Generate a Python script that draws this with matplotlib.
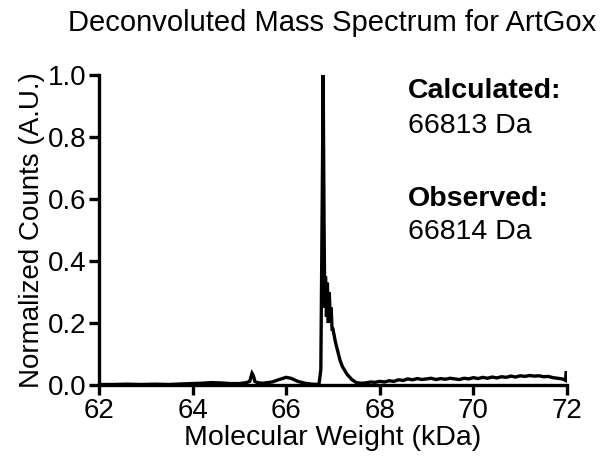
import numpy as np
import matplotlib
matplotlib.use("Agg")
import matplotlib.pyplot as plt

plt.rcParams['font.family'] = ['Liberation Sans', 'DejaVu Sans']

# Molecular weight (kDa) and normalized counts
mw = [62.0, 62.3, 62.6, 62.9, 63.2, 63.5, 63.8, 64.0, 64.2, 64.4, 64.6, 64.8,
      65.0, 65.15, 65.22, 65.27, 65.30, 65.33, 65.38, 65.5, 65.7, 65.85, 66.0,
      66.1, 66.25, 66.4, 66.55, 66.7, 66.74, 66.77, 66.79, 66.81, 66.825, 66.84,
      66.86, 66.88, 66.90, 66.92, 66.94, 66.96, 66.98, 67.0, 67.05, 67.1, 67.15,
      67.2, 67.3, 67.4, 67.5, 67.6, 67.7, 67.8, 67.9, 68.0, 68.1, 68.2, 68.3,
      68.4, 68.5, 68.6, 68.7, 68.8, 68.9, 69.0, 69.1, 69.2, 69.3, 69.4, 69.5,
      69.6, 69.7, 69.8, 69.9, 70.0, 70.1, 70.2, 70.3, 70.4, 70.5, 70.6, 70.7,
      70.8, 70.9, 71.0, 71.1, 71.2, 71.3, 71.4, 71.5, 71.6, 71.7, 71.8, 71.9,
      71.97, 71.98, 72.0]
counts = [0.002, 0.002, 0.003, 0.002, 0.003, 0.002, 0.004, 0.005, 0.006, 0.008,
          0.007, 0.005, 0.005, 0.008, 0.012, 0.038, 0.030, 0.012, 0.008, 0.006,
          0.010, 0.018, 0.025, 0.022, 0.012, 0.006, 0.003, 0.002, 0.05, 0.6,
          1.0, 0.5, 0.25, 0.35, 0.22, 0.33, 0.20, 0.30, 0.22, 0.25, 0.18, 0.18,
          0.14, 0.11, 0.08, 0.06, 0.035, 0.018, 0.008, 0.006, 0.007, 0.010,
          0.009, 0.012, 0.010, 0.014, 0.012, 0.017, 0.015, 0.020, 0.017, 0.021,
          0.018, 0.020, 0.022, 0.018, 0.021, 0.019, 0.022, 0.020, 0.018, 0.022,
          0.020, 0.024, 0.021, 0.025, 0.022, 0.026, 0.023, 0.027, 0.025, 0.029,
          0.026, 0.030, 0.028, 0.031, 0.029, 0.030, 0.027, 0.028, 0.024, 0.022,
          0.020, 0.015, 0.040, 0.040]

fig = plt.figure(figsize=(6, 4.59), dpi=100)
ax = fig.add_axes([0.165, 0.161, 0.78, 0.676])

ax.plot(mw, counts, color='black', lw=2.4, solid_joinstyle='miter')

ax.set_xlim(62, 72)
ax.set_ylim(0, 1.0)
ax.set_xticks(np.arange(62, 73, 2))
ax.set_yticks(np.arange(0, 1.01, 0.2))
ax.set_yticklabels([f"{v:.1f}" for v in np.arange(0, 1.01, 0.2)])
ax.margins(0)

for s in ['top', 'right']:
    ax.spines[s].set_visible(False)
for s in ['left', 'bottom']:
    ax.spines[s].set_linewidth(2.4)
ax.tick_params(width=2.4, length=7, labelsize=20, pad=2)

ax.set_xlabel("Molecular Weight (kDa)", fontsize=20.5, labelpad=1)
ax.set_ylabel("Normalized Counts (A.U.)", fontsize=20, labelpad=2)
fig.text(0.553, 0.95, "Deconvoluted Mass Spectrum for ArtGox",
         fontsize=21, ha='center', va='center')

ax.text(68.6, 0.925, "Calculated:", fontsize=20.5, fontweight='bold', va='baseline')
ax.text(68.6, 0.812, "66813 Da", fontsize=20.5, va='baseline')
ax.text(68.6, 0.578, "Observed:", fontsize=20.5, fontweight='bold', va='baseline')
ax.text(68.6, 0.471, "66814 Da", fontsize=20.5, va='baseline')

fig.savefig("out.png", dpi=100)
